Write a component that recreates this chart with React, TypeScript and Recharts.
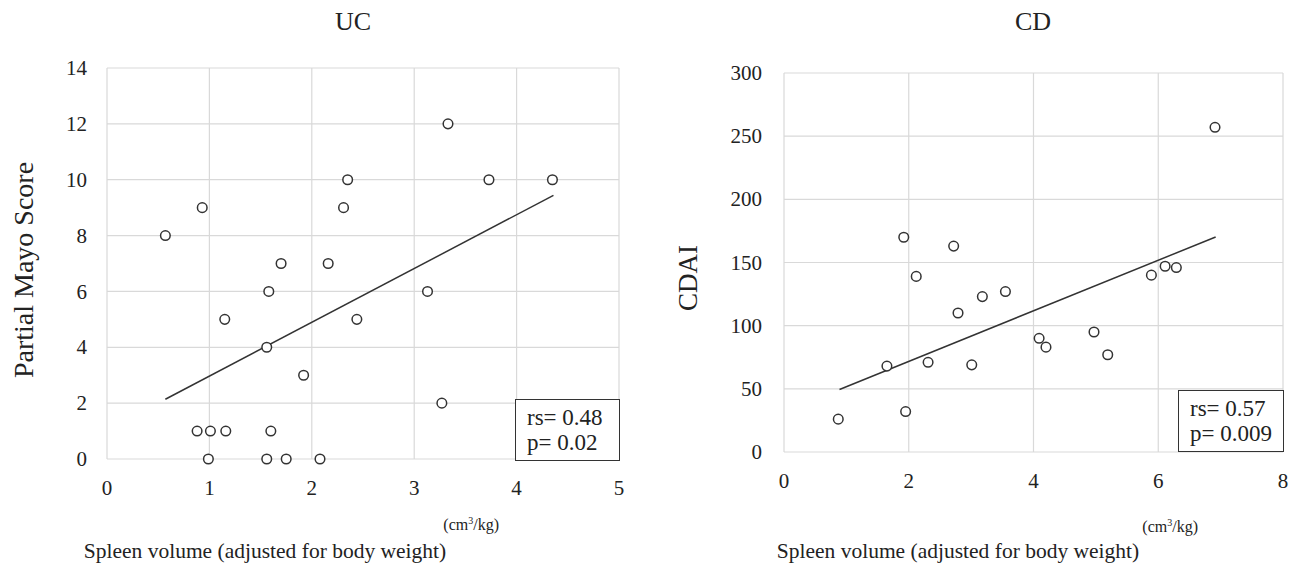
import React from 'react';
import { ScatterChart, Scatter, XAxis, YAxis, CartesianGrid, ReferenceLine } from 'recharts';

// ---- UC panel data ----
const ucSpleen = [0.57, 0.93, 0.88, 1.01, 1.16, 0.99, 1.15, 1.56, 1.56, 1.58, 1.6, 1.7, 1.75, 1.92, 2.08, 2.16, 2.31, 2.35, 2.44, 3.13, 3.27, 3.33, 3.73, 4.35];
const ucMayo = [8, 9, 1, 1, 1, 0, 5, 0, 4, 6, 1, 7, 0, 3, 0, 7, 9, 10, 5, 6, 2, 12, 10, 10];
const ucTrendStart = [0.57, 2.14];
const ucTrendEnd = [4.36, 9.44];
const ucXTicks = [0, 1, 2, 3, 4, 5];
const ucYTicks = [0, 2, 4, 6, 8, 10, 12, 14];
const ucStats = ['rs= 0.48', 'p= 0.02'];

// ---- CD panel data ----
const cdSpleen = [0.87, 1.65, 1.92, 1.95, 2.12, 2.31, 2.72, 2.79, 3.01, 3.18, 3.55, 4.09, 4.2, 4.97, 5.19, 5.89, 6.11, 6.29, 6.91];
const cdCdai = [26, 68, 170, 32, 139, 71, 163, 110, 69, 123, 127, 90, 83, 95, 77, 140, 147, 146, 257];
const cdTrendStart = [0.89, 49.5];
const cdTrendEnd = [6.92, 170.2];
const cdXTicks = [0, 2, 4, 6, 8];
const cdYTicks = [0, 50, 100, 150, 200, 250, 300];
const cdStats = ['rs= 0.57', 'p= 0.009'];

const FONT = '"Liberation Serif", "Times New Roman", serif';
const INK = '#222';
const TICK_SIZE = 21;

const toPoints = (xs: number[], ys: number[]) => xs.map((x, i) => ({ x, y: ys[i] }));

const Circle = (p: any) => (
  <circle cx={p.cx} cy={p.cy} r={4.8} fill="#fff" stroke="#333" strokeWidth={1.5} />
);

const XTick = (p: any) => (
  <text x={p.x} y={p.y} dy="0.71em" textAnchor="middle" style={{ fontFamily: FONT }} fontSize={TICK_SIZE} fill={INK}>
    {p.payload.value}
  </text>
);

const YTick = (p: any) => (
  <text x={p.x} y={p.y} dy="0.34em" textAnchor="end" style={{ fontFamily: FONT }} fontSize={TICK_SIZE} fill={INK}>
    {p.payload.value}
  </text>
);

type PanelProps = {
  left: number;
  width: number;
  margin: { top: number; right: number; bottom: number; left: number };
  xTicks: number[];
  yTicks: number[];
  points: { x: number; y: number }[];
  trendStart: number[];
  trendEnd: number[];
  yTickMargin: number;
};

function Panel(props: PanelProps) {
  const { left, width, margin, xTicks, yTicks, points, trendStart, trendEnd, yTickMargin } = props;
  return (
    <div style={{ position: 'absolute', left, top: 0, fontFamily: FONT }}>
      <ScatterChart width={width} height={566} margin={margin} style={{ fontFamily: FONT }}>
        <CartesianGrid stroke="#d9d9d9" strokeWidth={1.2} />
        <XAxis
          type="number"
          dataKey="x"
          domain={[xTicks[0], xTicks[xTicks.length - 1]]}
          ticks={xTicks}
          interval={0}
          axisLine={false}
          tickLine={false}
          tickSize={6}
          tickMargin={15}
          height={30}
          tick={XTick}
        />
        <YAxis
          type="number"
          dataKey="y"
          domain={[yTicks[0], yTicks[yTicks.length - 1]]}
          ticks={yTicks}
          interval={0}
          axisLine={false}
          tickLine={false}
          tickSize={6}
          tickMargin={yTickMargin}
          width={60}
          tick={YTick}
        />
        <ReferenceLine
          segment={[
            { x: trendStart[0], y: trendStart[1] },
            { x: trendEnd[0], y: trendEnd[1] },
          ]}
          stroke="#333"
          strokeWidth={1.5}
        />
        <Scatter data={points} shape={Circle} isAnimationActive={false} />
      </ScatterChart>
    </div>
  );
}

const abs = (extra: React.CSSProperties): React.CSSProperties => ({
  position: 'absolute',
  fontFamily: FONT,
  color: INK,
  lineHeight: 1,
  whiteSpace: 'nowrap',
  ...extra,
});

function StatsBox({ left, top, width, lines }: { left: number; top: number; width: number; lines: string[] }) {
  return (
    <div
      style={{
        position: 'absolute',
        left,
        top,
        width,
        height: 62,
        boxSizing: 'border-box',
        border: '1.3px solid #333',
        background: '#fff',
        paddingLeft: 11,
        paddingTop: 5,
        fontFamily: FONT,
        fontSize: 23,
        lineHeight: '25px',
        color: INK,
        whiteSpace: 'nowrap',
      }}
    >
      {lines.map((l) => (
        <div key={l}>{l}</div>
      ))}
    </div>
  );
}

const Unit = ({ right, cy }: { right: number; cy: number }) => (
  <div style={abs({ left: right, top: cy, fontSize: 16, transform: 'translate(-100%, -50%)' })}>
    (cm<sup style={{ fontSize: 10, verticalAlign: 'super', lineHeight: 0 }}>3</sup>/kg)
  </div>
);

export default function App() {
  return (
    <div style={{ position: 'absolute', left: 0, top: 0, width: 1289, height: 566, background: '#fff', overflow: 'hidden', fontFamily: FONT }}>
      <Panel
        left={0}
        width={650}
        margin={{ top: 68, right: 31, bottom: 77, left: 47 }}
        xTicks={ucXTicks}
        yTicks={ucYTicks}
        points={toPoints(ucSpleen, ucMayo)}
        trendStart={ucTrendStart}
        trendEnd={ucTrendEnd}
        yTickMargin={14}
      />
      <Panel
        left={650}
        width={639}
        margin={{ top: 73, right: 6, bottom: 84, left: 74 }}
        xTicks={cdXTicks}
        yTicks={cdYTicks}
        points={toPoints(cdSpleen, cdCdai)}
        trendStart={cdTrendStart}
        trendEnd={cdTrendEnd}
        yTickMargin={16}
      />

      <div style={abs({ left: 353, top: 22, fontSize: 26, transform: 'translate(-50%, -50%)' })}>UC</div>
      <div style={abs({ left: 1033, top: 22, fontSize: 26, transform: 'translate(-50%, -50%)' })}>CD</div>

      <div style={abs({ left: 24, top: 270, fontSize: 28, transform: 'translate(-50%, -50%) rotate(-90deg)' })}>
        Partial Mayo Score
      </div>
      <div style={abs({ left: 688, top: 278, fontSize: 27, transform: 'translate(-50%, -50%) rotate(-90deg)' })}>
        CDAI
      </div>

      <Unit right={499} cy={525} />
      <Unit right={1198} cy={527} />

      <div style={abs({ left: 265, top: 552, fontSize: 21.5, transform: 'translate(-50%, -50%)' })}>
        Spleen volume (adjusted for body weight)
      </div>
      <div style={abs({ left: 958, top: 552, fontSize: 21.5, transform: 'translate(-50%, -50%)' })}>
        Spleen volume (adjusted for body weight)
      </div>

      <StatsBox left={515} top={399} width={105} lines={ucStats} />
      <StatsBox left={1178} top={390} width={106} lines={cdStats} />
    </div>
  );
}
